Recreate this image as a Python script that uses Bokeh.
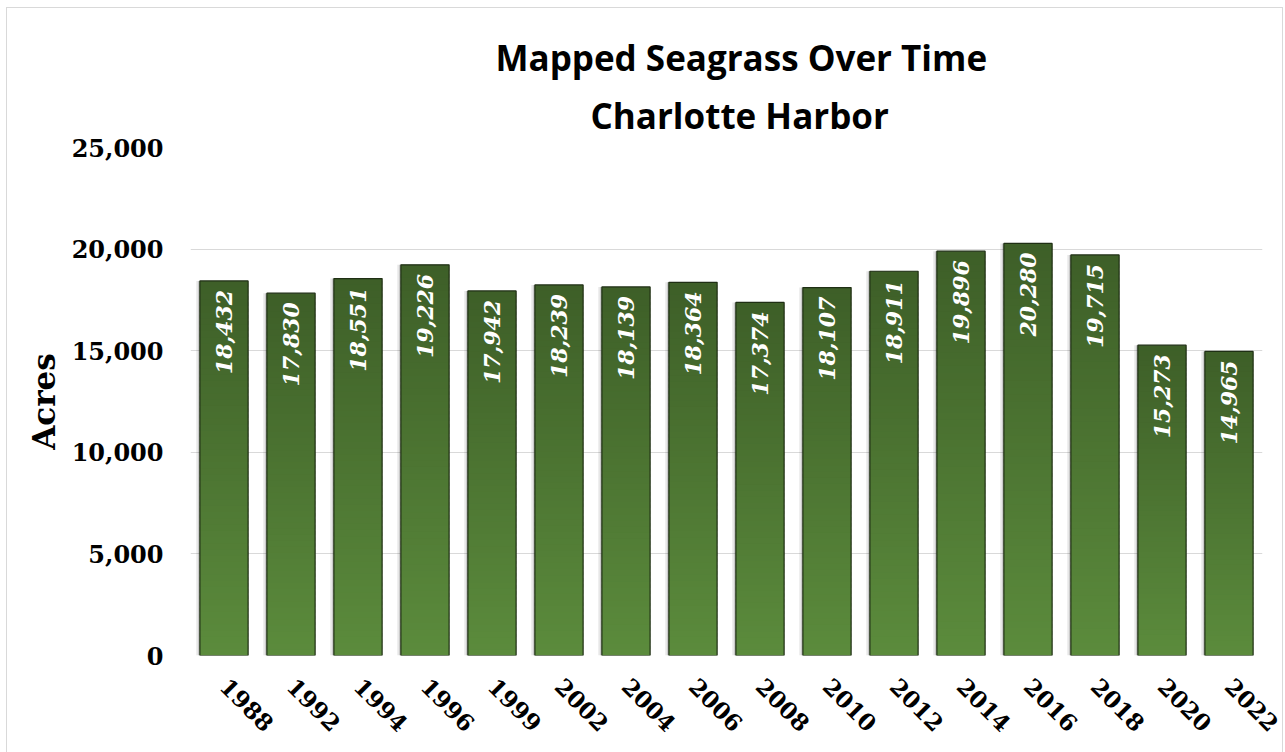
import math
from bokeh.plotting import figure
from bokeh.models import ColumnDataSource, Range1d, FixedTicker, NumeralTickFormatter, Title, InlineStyleSheet
from bokeh.transform import dodge
from bokeh.core.properties import value
from bokeh.embed import file_html
from bokeh.resources import INLINE

years = ["1988", "1992", "1994", "1996", "1999", "2002", "2004", "2006",
         "2008", "2010", "2012", "2014", "2016", "2018", "2020", "2022"]
acres = [18432, 17830, 18551, 19226, 17942, 18239, 18139, 18364,
         17374, 18107, 18911, 19896, 20280, 19715, 15273, 14965]
y_ticks = [0, 5000, 10000, 15000, 20000, 25000]
title_line1 = "Mapped Seagrass Over Time"
title_line2 = "Charlotte Harbor"
y_label = "Acres"

TOP = (0x3e, 0x5f, 0x28)
BOT = (0x5b, 0x8b, 0x3c)
N_BANDS = 60

frame_css = InlineStyleSheet(css="""
:host { position: relative; }
:host::after {
  content: ""; position: absolute; left: 6px; top: 7px; right: 0px; bottom: 0px;
  border: 1px solid #d9d9d9; border-bottom: none; pointer-events: none;
}
""")

p = figure(width=1283, height=752, x_range=years, y_range=Range1d(0, 25000),
           output_backend="svg", toolbar_location=None,
           min_border_left=190, min_border_right=21, min_border_top=147, min_border_bottom=97)
p.outline_line_color = None
p.background_fill_color = "white"
p.border_fill_color = "white"
p.stylesheets = [frame_css]

src = ColumnDataSource(dict(x=years, top=acres, label=[f"{v:,}" for v in acres]))

# soft shadow on the left side
p.vbar(x=dodge("x", -0.055, range=p.x_range), top="top", width=0.72, source=src,
       fill_color="#000000", fill_alpha=0.08, line_color=None)
p.vbar(x=dodge("x", -0.03, range=p.x_range), top="top", width=0.72, source=src,
       fill_color="#000000", fill_alpha=0.14, line_color=None)

# gradient bands (light at bottom, dark at top of each bar)
bx, bb, bt, bc = [], [], [], []
for yr, v in zip(years, acres):
    for k in range(N_BANDS):
        f = k / (N_BANDS - 1)
        c = tuple(int(round(BOT[j] + (TOP[j] - BOT[j]) * f)) for j in range(3))
        bx.append(yr)
        bb.append(v * k / N_BANDS)
        bt.append(min(v, v * (k + 1.6) / N_BANDS))
        bc.append("#%02x%02x%02x" % c)
p.vbar(x=bx, bottom=bb, top=bt, width=0.72, fill_color=bc, line_color=None)

# outline
p.vbar(x="x", top="top", width=0.72, source=src, fill_color=None,
       line_color="#1f2f14", line_width=1.2)

# value labels
p.text(x="x", y="top", text="label", source=src, angle=math.pi / 2,
       text_align="right", text_baseline="middle", y_offset=9,
       text_color="white", text_font=value("DejaVu Serif"),
       text_font_style="bold italic", text_font_size="22px")

# axes
p.yaxis.ticker = FixedTicker(ticks=y_ticks)
p.yaxis.formatter = NumeralTickFormatter(format="0,0")
for ax in (p.xaxis[0], p.yaxis[0]):
    ax.axis_line_color = None
    ax.major_tick_line_color = None
    ax.minor_tick_line_color = None
    ax.major_tick_out = 0
    ax.major_tick_in = 0
    ax.minor_tick_out = 0
    ax.major_label_text_font = "DejaVu Serif"
    ax.major_label_text_font_style = "bold"
    ax.major_label_text_color = "black"
p.yaxis.major_label_text_font_size = "24px"
p.xaxis.major_label_text_font_size = "23px"
p.yaxis.major_label_standoff = 27
p.xaxis.major_label_standoff = 27
p.xaxis.major_label_orientation = -math.pi / 4
p.yaxis.axis_label = y_label
p.yaxis.axis_label_text_font = "DejaVu Serif"
p.yaxis.axis_label_text_font_style = "bold"
p.yaxis.axis_label_text_font_size = "31px"
p.yaxis.axis_label_text_color = "black"
p.yaxis.axis_label_standoff = 7

p.xgrid.grid_line_color = None
p.ygrid.grid_line_color = "#d9d9d9"
p.ygrid.grid_line_width = 1.2

# titles (first added sits closest to the plot)
p.add_layout(Title(text=title_line2, align="left", offset=400, standoff=18,
                   text_font="Open Sans", text_font_style="bold",
                   text_font_size="35px", text_color="black"), "above")
p.add_layout(Title(text=title_line1, align="left", offset=305, standoff=0,
                   text_font="Open Sans", text_font_style="bold",
                   text_font_size="35px", text_color="black"), "above")

open("out.html", "w").write(file_html(p, INLINE))
